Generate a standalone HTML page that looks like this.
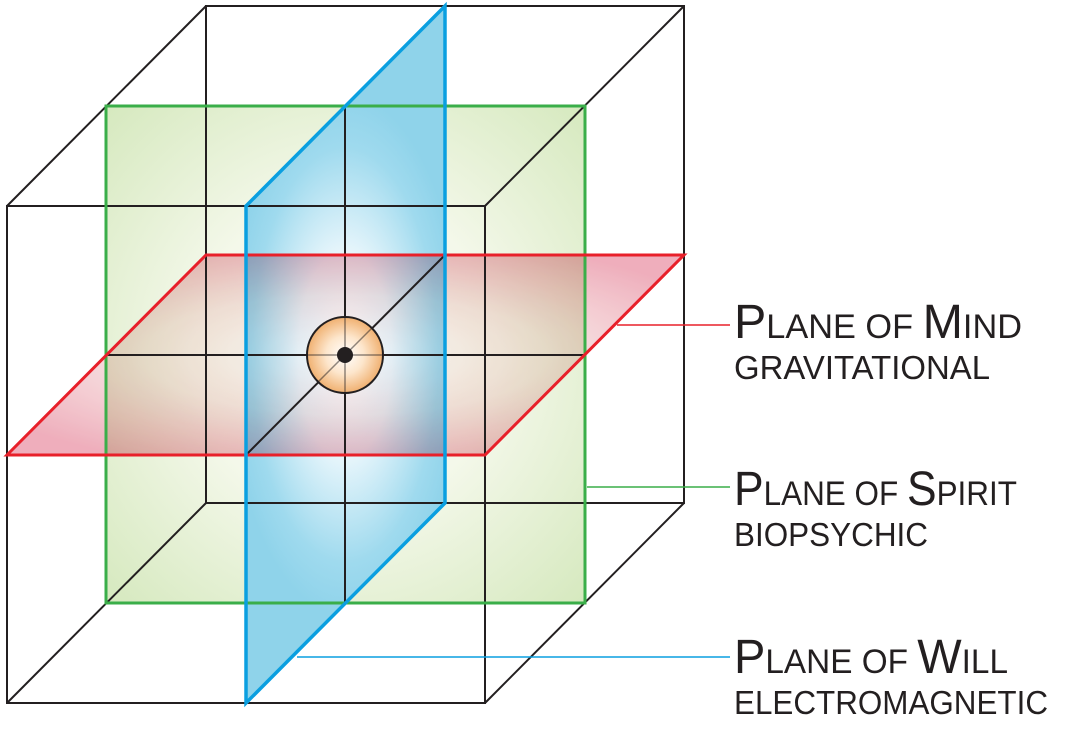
<!DOCTYPE html>
<html><head><meta charset="utf-8"><style>
html,body{margin:0;padding:0;background:#fff;}
svg{display:block;}
text{font-family:"Liberation Sans",sans-serif;fill:#231f20;}
</style></head><body>
<svg width="1071" height="729" viewBox="0 0 1071 729" xmlns="http://www.w3.org/2000/svg">
<defs>
<radialGradient id="gg" cx="0.5" cy="0.5" r="0.7">
<stop offset="0" stop-color="#ffffff"/><stop offset="0.45" stop-color="#f4f8ea"/><stop offset="1" stop-color="#d6e9bf"/>
</radialGradient>
<radialGradient id="bg" cx="345" cy="355" r="260" gradientUnits="userSpaceOnUse" gradientTransform="translate(345 355) scale(0.45 1) translate(-345 -355)">
<stop offset="0" stop-color="#ffffff"/><stop offset="0.4" stop-color="#e6f5fb"/><stop offset="0.8" stop-color="#9fdaee"/><stop offset="1" stop-color="#8fd3ea"/>
</radialGradient>
<radialGradient id="rg" cx="0.5" cy="0.5" r="0.6">
<stop offset="0" stop-color="#ffffff"/><stop offset="0.5" stop-color="#f6dede"/><stop offset="1" stop-color="#eca0b0"/>
</radialGradient>
<radialGradient id="og" cx="0.5" cy="0.5" r="0.5">
<stop offset="0" stop-color="#ffffff"/><stop offset="0.5" stop-color="#fde6cc"/><stop offset="1" stop-color="#f0b070"/>
</radialGradient>
</defs>
<rect x="106" y="106" width="479" height="497" fill="url(#gg)"/>
<polygon points="246,206 445,6 445,503 246,703" fill="url(#bg)"/>
<polygon points="7,455 485,455 684,255 206,255" fill="url(#rg)" style="mix-blend-mode:multiply" opacity="0.85"/>
<g stroke="#231f20" stroke-width="2" fill="none">
<rect x="7" y="206" width="478" height="497"/>
<rect x="206" y="6" width="478" height="497"/>
<line x1="7" y1="206" x2="206" y2="6"/><line x1="485" y1="206" x2="684" y2="6"/>
<line x1="7" y1="703" x2="206" y2="503"/><line x1="485" y1="703" x2="684" y2="503"/>
<line x1="345" y1="106" x2="345" y2="603"/>
<line x1="106" y1="355" x2="585" y2="355"/>
<line x1="246" y1="455" x2="445" y2="255"/>
</g>
<rect x="106" y="106" width="479" height="497" fill="none" stroke="#3aae49" stroke-width="3"/>
<polygon points="7,455 485,455 684,255 206,255" fill="none" stroke="#e8202a" stroke-width="3"/>
<polygon points="246,206 445,6 445,503 246,703" fill="none" stroke="#0a9fe0" stroke-width="3.5"/>
<circle cx="345" cy="355" r="38" fill="url(#og)" stroke="#231f20" stroke-width="2"/>
<line x1="307" y1="355" x2="383" y2="355" stroke="#231f20" stroke-width="1.5" opacity="0.5"/>
<line x1="345" y1="317" x2="345" y2="393" stroke="#231f20" stroke-width="1.5" opacity="0.5"/>
<line x1="318" y1="382" x2="372" y2="328" stroke="#231f20" stroke-width="1.5" opacity="0.5"/>
<circle cx="345" cy="355" r="8" fill="#231f20"/>
<line x1="617" y1="325" x2="730" y2="325" stroke="#e8202a" stroke-width="1.5"/>
<line x1="587" y1="487" x2="730" y2="487" stroke="#3aae49" stroke-width="1.5"/>
<line x1="297" y1="657" x2="730" y2="657" stroke="#0a9fe0" stroke-width="1.5"/>
<text x="734" y="338" font-size="34" textLength="288" lengthAdjust="spacingAndGlyphs"><tspan font-size="48">P</tspan>LANE OF <tspan font-size="48">M</tspan>IND</text>
<text x="734" y="379" font-size="33" textLength="256" lengthAdjust="spacingAndGlyphs">GRAVITATIONAL</text>
<text x="734" y="505" font-size="34" textLength="283" lengthAdjust="spacingAndGlyphs"><tspan font-size="48">P</tspan>LANE OF <tspan font-size="48">S</tspan>PIRIT</text>
<text x="734" y="546" font-size="33" textLength="194" lengthAdjust="spacingAndGlyphs">BIOPSYCHIC</text>
<text x="734" y="673" font-size="34" textLength="274" lengthAdjust="spacingAndGlyphs"><tspan font-size="48">P</tspan>LANE OF <tspan font-size="48">W</tspan>ILL</text>
<text x="734" y="714" font-size="33" textLength="314" lengthAdjust="spacingAndGlyphs">ELECTROMAGNETIC</text>
</svg>
</body></html>
